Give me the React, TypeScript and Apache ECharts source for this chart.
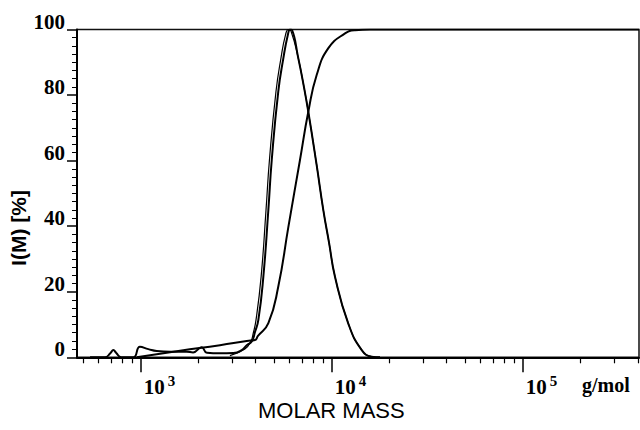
import React, { useEffect, useRef } from 'react';
import * as echarts from 'echarts';

// Molar mass (g/mol) and intensity (%)
const massMain = [543, 650, 695, 719, 745, 790, 915, 991, 1096, 1213, 1426, 1741, 1880, 2085, 2222, 2600, 3055, 3380, 3590, 3813, 3965, 4130, 4386, 4659, 4853, 5248, 5580, 5890, 6055, 6200, 6685, 7100, 7540, 8340, 9036, 9680, 10400, 12210, 14360, 16190, 17900];
const intMain = [0, 0, 1.3, 2.2, 1.3, 0, 0, 3.2, 2.5, 1.9, 1.7, 1.7, 1.5, 3.05, 1.4, 1.2, 1.3, 2.2, 3.7, 4.8, 7.7, 11.4, 24.6, 45.0, 60.2, 81.0, 91.2, 98.3, 100, 99.8, 91.2, 83.5, 74.9, 58.6, 44.9, 35, 24.6, 10.3, 2.2, 0.2, 0];

const massFit = [2930, 3510, 3780, 3870, 4015, 4270, 4530, 4720, 5105, 5420, 5725, 5930, 6120, 6685, 7100, 7540, 8340, 9036, 9680, 10400, 12210, 14360, 16190, 17900];
const intFit = [0.5, 2.5, 5.0, 7.0, 11.4, 24.6, 45, 60.2, 81, 91.2, 98.3, 100, 99.5, 91.2, 83.5, 74.9, 58.6, 44.9, 35, 24.6, 10.3, 2.2, 0.2, 0];

const massCum = [953, 1607, 2600, 3590, 3965, 4110, 4659, 5248, 5930, 6820, 7540, 8340, 9600, 11740, 13250, 15860, 406000];
const intCum = [0, 2.0, 3.7, 5.0, 5.3, 6.5, 10.4, 21.5, 39.8, 60.2, 74.9, 86.1, 94.3, 98.8, 99.8, 100, 100];

const majorTicks = [1000, 10000, 100000];
const majorExp: Record<number, string> = { 1000: '3', 10000: '4', 100000: '5' };
const minorTicks = [500, 600, 700, 800, 900, 2000, 3000, 4000, 5000, 6000, 7000, 8000, 9000, 20000, 30000, 40000, 50000, 60000, 70000, 80000, 90000, 200000, 300000, 400000];

const xMin = 464;
const xMax = 406000;

const pair = (xs: number[], ys: number[]) => xs.map((x, i) => [x, ys[i]]);

export default function App() {
  const ref = useRef<HTMLDivElement>(null);
  useEffect(() => {
    const chart = echarts.init(ref.current!, null, { renderer: 'svg' });
    const serif = '"Liberation Serif", "Times New Roman", serif';
    const sans = '"Liberation Sans", Arial, sans-serif';
    const lineSeries = (name: string, data: number[][], width: number) => ({
      name,
      type: 'line',
      data,
      xAxisIndex: 0,
      yAxisIndex: 0,
      showSymbol: false,
      symbol: 'none',
      smooth: 0.5,
      lineStyle: { color: '#000', width },
      z: 5,
    });
    chart.setOption({
      animation: false,
      backgroundColor: '#fff',
      grid: {
        left: 77,
        right: 1,
        top: 29.5,
        bottom: 72.7,
        show: true,
        borderColor: '#111',
        borderWidth: 1.5,
        backgroundColor: 'transparent',
      },
      xAxis: [
        {
          type: 'log',
          logBase: 10,
          min: xMin,
          max: xMax,
          position: 'bottom',
          axisLine: { show: true, onZero: false, lineStyle: { color: '#000', width: 2 } },
          axisTick: { show: true, customValues: majorTicks, length: 15, lineStyle: { color: '#000', width: 1.5 } },
          minorTick: { show: false },
          splitLine: { show: false },
          axisLabel: {
            customValues: majorTicks,
            margin: 16,
            align: 'left',
            padding: [0, 0, 0, 3],
            fontFamily: serif,
            fontWeight: 'bold',
            fontSize: 21,
            color: '#000',
            formatter: (v: number) => `{base|10}{exp|${majorExp[Math.round(v)] ?? ''}}`,
            rich: {
              base: { fontFamily: serif, fontWeight: 'bold', fontSize: 21, color: '#000', lineHeight: 24, verticalAlign: 'bottom' },
              exp: { fontFamily: serif, fontWeight: 'bold', fontSize: 15, color: '#000', lineHeight: 15, verticalAlign: 'top', padding: [0, 0, 0, 3] },
            },
          },
        },
        {
          type: 'log',
          logBase: 10,
          min: xMin,
          max: xMax,
          position: 'bottom',
          axisLine: { show: false, onZero: false },
          axisTick: { show: true, customValues: minorTicks, length: 6, lineStyle: { color: '#000', width: 1.2 } },
          minorTick: { show: false },
          splitLine: { show: false },
          axisLabel: { show: false },
        },
      ],
      yAxis: {
        type: 'value',
        min: 0,
        max: 100,
        interval: 20,
        axisLine: { show: true, lineStyle: { color: '#000', width: 2 } },
        axisTick: { show: true, length: 10, lineStyle: { color: '#000', width: 1.5 } },
        minorTick: { show: true, splitNumber: 8, length: 5, lineStyle: { color: '#000', width: 1 } },
        splitLine: { show: false },
        axisLabel: {
          margin: 12,
          fontFamily: serif,
          fontWeight: 'bold',
          fontSize: 21,
          color: '#000',
          verticalAlign: 'bottom',
          lineHeight: 16,
        },
      },
      series: [
        lineSeries('cumulative', pair(massCum, intCum), 2),
        lineSeries('fit', pair(massFit, intFit), 1.2),
        lineSeries('distribution', pair(massMain, intMain), 2),
      ],
      graphic: [
        {
          type: 'text',
          x: 18,
          y: 228,
          rotation: Math.PI / 2,
          style: { text: 'I(M) [%]', font: `bold 21px ${sans}`, fill: '#000', align: 'center', verticalAlign: 'middle' },
        },
        {
          type: 'text',
          x: 258,
          y: 410,
          style: { text: 'MOLAR MASS', font: `22px ${sans}`, fill: '#000', align: 'left', verticalAlign: 'middle' },
        },
        {
          type: 'text',
          x: 582,
          y: 385,
          style: { text: 'g/mol', font: `bold 20px ${serif}`, fill: '#000', align: 'left', verticalAlign: 'middle' },
        },
      ],
    });
    return () => chart.dispose();
  }, []);
  return (
    <div
      ref={ref}
      style={{ position: 'fixed', left: 0, top: 0, width: 640, height: 430, background: '#fff' }}
    />
  );
}
